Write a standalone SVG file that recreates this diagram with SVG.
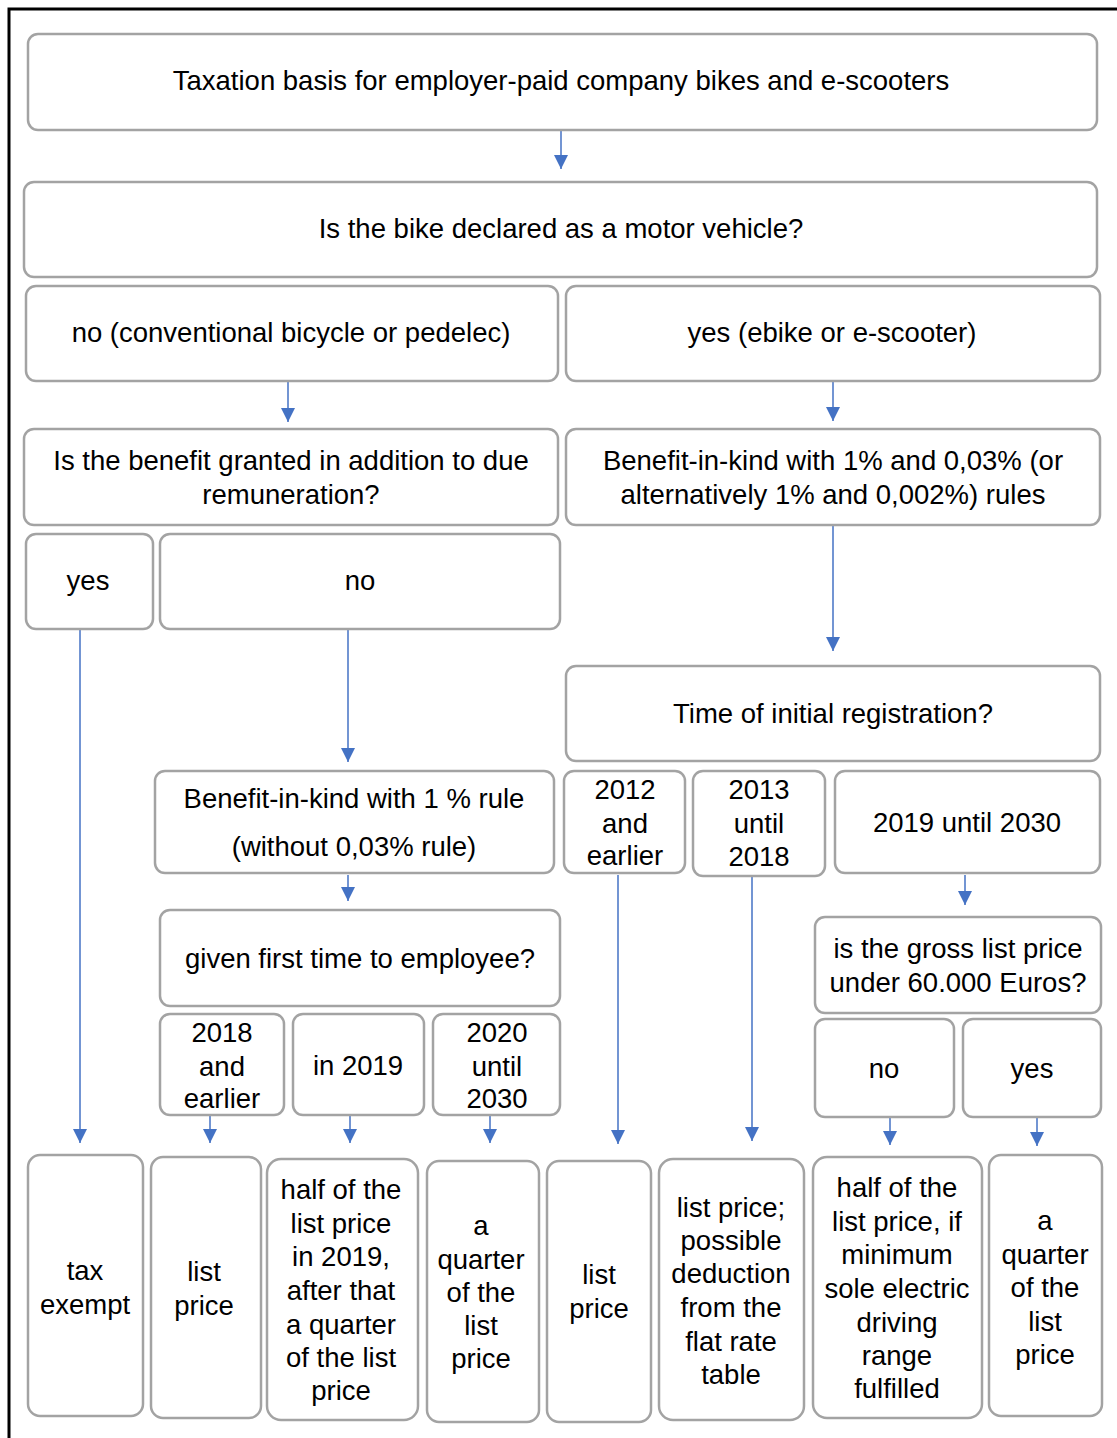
<svg xmlns="http://www.w3.org/2000/svg" width="1117" height="1438" viewBox="0 0 1117 1438">
<style>
.b{fill:#fff;stroke:#a3a3a3;stroke-width:2.5}
text{font-family:"Liberation Sans",Arial,sans-serif;font-size:27.5px;fill:#000;text-anchor:middle}
.c{stroke:#4472c4;stroke-width:1.5;fill:none}
</style>
<defs>
<marker id="a" viewBox="0 0 10 10" refX="10" refY="5" markerWidth="14" markerHeight="14" markerUnits="userSpaceOnUse" orient="auto">
<path d="M0,0 L10,5 L0,10 z" fill="#4472c4"/>
</marker>
</defs>
<rect x="0" y="0" width="1117" height="1438" fill="#fff"/>
<rect x="9" y="9" width="1120" height="1450" fill="none" stroke="#000" stroke-width="3"/>

<g id="connectors">
<line class="c" x1="561" y1="131" x2="561" y2="169" marker-end="url(#a)"/>
<line class="c" x1="288" y1="382" x2="288" y2="422" marker-end="url(#a)"/>
<line class="c" x1="833" y1="382" x2="833" y2="421" marker-end="url(#a)"/>
<line class="c" x1="833" y1="526" x2="833" y2="651" marker-end="url(#a)"/>
<line class="c" x1="80" y1="630" x2="80" y2="1143" marker-end="url(#a)"/>
<line class="c" x1="348" y1="630" x2="348" y2="762" marker-end="url(#a)"/>
<line class="c" x1="348" y1="875" x2="348" y2="901" marker-end="url(#a)"/>
<line class="c" x1="965" y1="875" x2="965" y2="905" marker-end="url(#a)"/>
<line class="c" x1="210" y1="1116" x2="210" y2="1143" marker-end="url(#a)"/>
<line class="c" x1="350" y1="1116" x2="350" y2="1143" marker-end="url(#a)"/>
<line class="c" x1="490" y1="1116" x2="490" y2="1143" marker-end="url(#a)"/>
<line class="c" x1="618" y1="875" x2="618" y2="1144" marker-end="url(#a)"/>
<line class="c" x1="752" y1="877" x2="752" y2="1141" marker-end="url(#a)"/>
<line class="c" x1="890" y1="1118" x2="890" y2="1145" marker-end="url(#a)"/>
<line class="c" x1="1037" y1="1118" x2="1037" y2="1146" marker-end="url(#a)"/>
</g>

<g id="n1"><rect class="b" x="28" y="34" width="1069" height="96" rx="10"/><text x="561" y="90">Taxation  basis for employer-paid company bikes and e-scooters</text></g>
<g id="n2"><rect class="b" x="24" y="182" width="1073" height="95" rx="10"/><text x="561" y="238">Is the bike declared as a motor vehicle?</text></g>
<g id="n3"><rect class="b" x="26" y="286" width="532" height="95" rx="10"/><text x="291" y="342">no (conventional bicycle or pedelec)</text></g>
<g id="n4"><rect class="b" x="566" y="286" width="534" height="95" rx="10"/><text x="832" y="342">yes (ebike or e-scooter)</text></g>
<g id="n5"><rect class="b" x="24" y="429" width="534" height="96" rx="10"/><text x="291" y="470">Is the benefit granted in addition to due</text><text x="291" y="504">remuneration?</text></g>
<g id="n6"><rect class="b" x="566" y="429" width="534" height="96" rx="10"/><text x="833" y="470">Benefit-in-kind with 1% and 0,03% (or</text><text x="833" y="504">alternatively 1% and 0,002%) rules</text></g>
<g id="n7"><rect class="b" x="26" y="534" width="127" height="95" rx="10"/><text x="88" y="590">yes</text></g>
<g id="n8"><rect class="b" x="160" y="534" width="400" height="95" rx="10"/><text x="360" y="590">no</text></g>
<g id="n9"><rect class="b" x="566" y="666" width="534" height="95" rx="10"/><text x="833" y="723">Time of initial registration?</text></g>
<g id="n10"><rect class="b" x="155" y="771" width="399" height="102" rx="10"/><text x="354" y="808">Benefit-in-kind with 1 % rule</text><text x="354" y="856">(without  0,03% rule)</text></g>
<g id="n11"><rect class="b" x="564" y="771" width="121" height="102" rx="10"/><text x="625" y="799">2012</text><text x="625" y="833">and</text><text x="625" y="865">earlier</text></g>
<g id="n12"><rect class="b" x="693" y="771" width="132" height="105" rx="10"/><text x="759" y="799">2013</text><text x="759" y="833">until</text><text x="759" y="866">2018</text></g>
<g id="n13"><rect class="b" x="835" y="771" width="265" height="102" rx="10"/><text x="967" y="832">2019 until 2030</text></g>
<g id="n14"><rect class="b" x="160" y="910" width="400" height="96" rx="10"/><text x="360" y="968">given first time to employee?</text></g>
<g id="n15"><rect class="b" x="815" y="917" width="286" height="96" rx="10"/><text x="958" y="958">is the gross list price</text><text x="958" y="992">under 60.000 Euros?</text></g>
<g id="n16"><rect class="b" x="160" y="1014" width="124" height="101" rx="10"/><text x="222" y="1042">2018</text><text x="222" y="1076">and</text><text x="222" y="1108">earlier</text></g>
<g id="n17"><rect class="b" x="293" y="1014" width="131" height="101" rx="10"/><text x="358" y="1075">in 2019</text></g>
<g id="n18"><rect class="b" x="433" y="1014" width="127" height="101" rx="10"/><text x="497" y="1042">2020</text><text x="497" y="1076">until</text><text x="497" y="1108">2030</text></g>
<g id="n19"><rect class="b" x="815" y="1019" width="139" height="98" rx="10"/><text x="884" y="1078">no</text></g>
<g id="n20"><rect class="b" x="963" y="1019" width="138" height="98" rx="10"/><text x="1032" y="1078">yes</text></g>

<g id="n21"><rect class="b" x="28" y="1155" width="115" height="261" rx="12"/><text x="85" y="1280">tax</text><text x="85" y="1314">exempt</text></g>
<g id="n22"><rect class="b" x="151" y="1157" width="110" height="261" rx="12"/><text x="204" y="1281">list</text><text x="204" y="1315">price</text></g>
<g id="n23"><rect class="b" x="267" y="1159" width="151" height="261" rx="14"/><text x="341" y="1199">half of the</text><text x="341" y="1233">list price</text><text x="341" y="1266">in 2019,</text><text x="341" y="1300">after that</text><text x="341" y="1334">a quarter</text><text x="341" y="1367">of the list</text><text x="341" y="1400">price</text></g>
<g id="n24"><rect class="b" x="427" y="1161" width="112" height="261" rx="12"/><text x="481" y="1235">a</text><text x="481" y="1269">quarter</text><text x="481" y="1302">of the</text><text x="481" y="1335">list</text><text x="481" y="1368">price</text></g>
<g id="n25"><rect class="b" x="547" y="1161" width="104" height="261" rx="12"/><text x="599" y="1284">list</text><text x="599" y="1318">price</text></g>
<g id="n26"><rect class="b" x="659" y="1159" width="145" height="261" rx="14"/><text x="731" y="1217">list price;</text><text x="731" y="1250">possible</text><text x="731" y="1283">deduction</text><text x="731" y="1317">from  the</text><text x="731" y="1351">flat rate</text><text x="731" y="1384">table</text></g>
<g id="n27"><rect class="b" x="813" y="1157" width="169" height="261" rx="14"/><text x="897" y="1197">half of the</text><text x="897" y="1231">list price, if</text><text x="897" y="1264">minimum</text><text x="897" y="1298">sole electric</text><text x="897" y="1332">driving</text><text x="897" y="1365">range</text><text x="897" y="1398">fulfilled</text></g>
<g id="n28"><rect class="b" x="989" y="1155" width="113" height="261" rx="12"/><text x="1045" y="1230">a</text><text x="1045" y="1264">quarter</text><text x="1045" y="1297">of the</text><text x="1045" y="1331">list</text><text x="1045" y="1364">price</text></g>
</svg>
